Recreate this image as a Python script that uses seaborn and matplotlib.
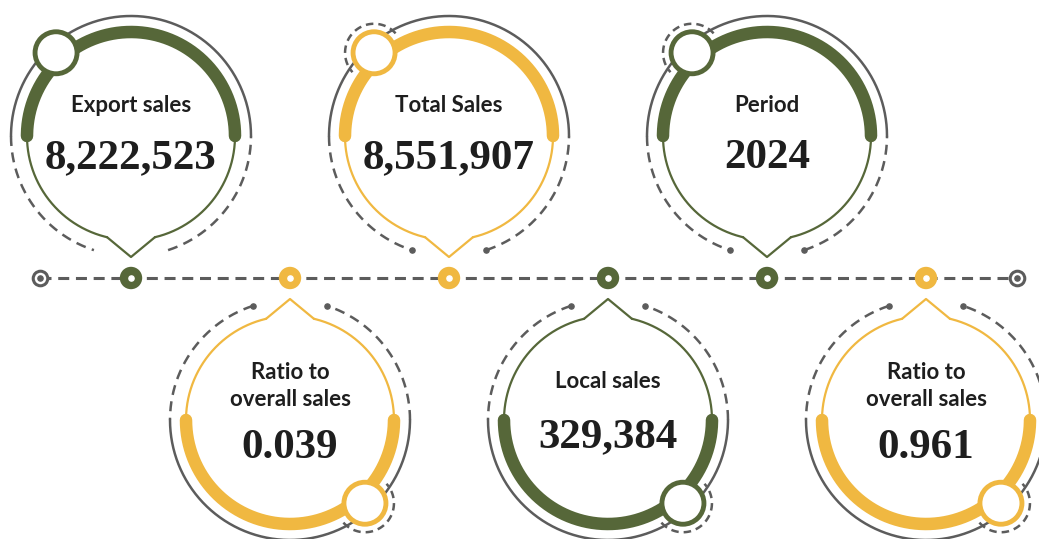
import numpy as np
import matplotlib
matplotlib.use("Agg")
import matplotlib.pyplot as plt
from matplotlib.patches import Circle
import seaborn as sns

# data (left to right along the timeline)
labels = ["Export sales", "Ratio to\noverall sales", "Total Sales",
          "Local sales", "Period", "Ratio to\noverall sales"]
values = ["8,222,523", "0.039", "8,551,907", "329,384", "2024", "0.961"]
card_colors = ["green", "yellow", "yellow", "green", "green", "yellow"]
knob_ring = [False, True, True, True, True, True]

GREEN = "#566739"
YELLOW = "#f0b841"
GRAY = "#5c5c5c"
palette = {"green": GREEN, "yellow": YELLOW}

sns.set_theme(style="white")
plt.rcParams["font.family"] = ["Lato", "DejaVu Sans"]

W, H = 1039, 539
fig = plt.figure(figsize=(W / 100, H / 100), dpi=100)
ax = fig.add_axes([0, 0, 1, 1])
ax.set_xlim(0, W)
ax.set_ylim(H, 0)
ax.set_aspect("equal")
ax.axis("off")

line_y = 278
xs = np.linspace(131, 926, len(labels))
R = 104        # thick arc radius
R_OUT = 120    # gray outer ring
R_KNOB = 112


def polar(cx, cy, s, r, t):
    t = np.radians(t)
    return cx + s * r * np.cos(t), cy - s * r * np.sin(t)


def arc(cx, cy, s, r, t0, t1, **kw):
    x, y = polar(cx, cy, s, r, np.linspace(t0, t1, 200))
    ax.plot(x, y, **kw)


# timeline
ax.plot([40, 1017], [line_y, line_y], color=GRAY, lw=2.2, dashes=(3.6, 2.2), zorder=1)
tl = {"x": list(xs), "y": [line_y] * len(xs), "c": card_colors}
sns.scatterplot(x=tl["x"], y=tl["y"], hue=tl["c"], palette=palette, s=260,
                edgecolor="none", legend=False, ax=ax, zorder=3)
ax.scatter(xs, [line_y] * len(xs), s=14, color="white", zorder=4)
ends = [40, 1017]
ax.scatter(ends, [line_y] * 2, s=110, facecolor="white", edgecolor=GRAY, linewidth=2.2, zorder=3)
ax.scatter(ends, [line_y] * 2, s=14, color=GRAY, zorder=4)

for i, (lab, val, cname, ring) in enumerate(zip(labels, values, card_colors, knob_ring)):
    col = palette[cname]
    s = 1 if i % 2 == 0 else -1
    cx = xs[i]
    cy = line_y - s * 142

    # gray outer ring: solid half + dashed sides
    arc(cx, cy, s, R_OUT, 0, 180, color=GRAY, lw=1.8, zorder=1)
    arc(cx, cy, s, R_OUT, 180, 252, color=GRAY, lw=1.8, dashes=(4, 2.6), zorder=1)
    arc(cx, cy, s, R_OUT, 288, 360, color=GRAY, lw=1.8, dashes=(4, 2.6), zorder=1)
    if ring:
        ex, ey = polar(cx, cy, s, R_OUT, np.array([252, 288]))
        ax.scatter(ex, ey, s=14, color=GRAY, zorder=2)

    # thin colored outline with pointer to the timeline
    arc(cx, cy, s, R, 180, 256.7, color=col, lw=1.6, zorder=2)
    arc(cx, cy, s, R, 283.3, 360, color=col, lw=1.6, zorder=2)
    px, py = polar(cx, cy, s, np.array([R, 121, R]), np.array([256.7, 270, 283.3]))
    ax.plot(px, py, color=col, lw=1.6, zorder=2)

    # thick progress arc
    arc(cx, cy, s, R, 0, 180, color=col, lw=9, solid_capstyle="round", zorder=3)

    # knob
    kx, ky = polar(cx, cy, s, R_KNOB, 132)
    if ring:
        x, y = polar(kx, ky, s, 29, np.linspace(42, 222, 80))
        ax.plot(x, y, color=GRAY, lw=1.8, dashes=(3, 2), zorder=1)
    ax.add_patch(Circle((kx, ky), 21, facecolor="white", edgecolor=col, lw=3.5, zorder=4))

    # texts
    two_lines = "\n" in lab
    if s == 1:
        ly, vy = cy - 30, cy + 22
    elif two_lines:
        ly, vy = cy - 34, cy + 28
    else:
        ly, vy = cy - 38, cy + 17
    ax.text(cx, ly, lab, ha="center", va="center", fontsize=16, fontweight="bold",
            color="#1e1e1e", linespacing=1.35, zorder=5)
    ax.text(cx, vy, val, ha="center", va="center", fontsize=31, fontweight="bold",
            family=["Liberation Serif", "DejaVu Serif"], color="#1e1e1e", zorder=5)

fig.savefig("out.png", dpi=100)
